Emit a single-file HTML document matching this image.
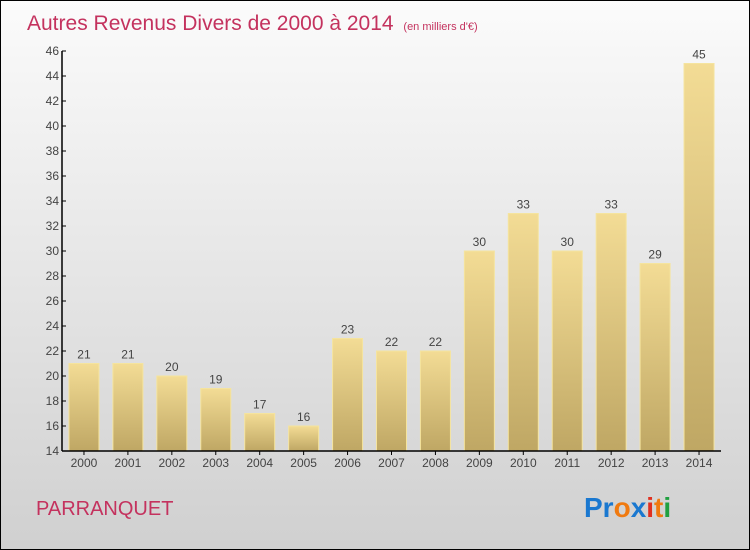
<!DOCTYPE html>
<html><head><meta charset="utf-8"><style>
body{margin:0;}
#c{position:relative;width:748px;height:548px;border:1px solid #000;background:linear-gradient(#fbfbfb,#d0d0d0);overflow:hidden;font-family:"Liberation Sans",sans-serif;}
</style></head><body>
<div id="c">
<svg id="s" width="748" height="548" xmlns="http://www.w3.org/2000/svg">
<defs><linearGradient id="g" x1="0" y1="0" x2="0" y2="1"><stop offset="0" stop-color="#f3dc95"/><stop offset="1" stop-color="#bfa764"/></linearGradient></defs>
<text x="26" y="29" font-size="21" fill="#c4325e">Autres Revenus Divers de 2000 à 2014 <tspan font-size="11" dx="4">(en milliers d'€)</tspan></text>
<text x="35" y="514" font-size="20" fill="#c4325e">PARRANQUET</text>
<g font-size="28" font-weight="bold" font-family="'Liberation Sans',sans-serif">
<text x="583" y="516"><tspan fill="#1a78d0">Pr</tspan><tspan fill="#f07a10">o</tspan><tspan fill="#1a78d0">x</tspan><tspan fill="#e03020">i</tspan><tspan fill="#f07a10">t</tspan><tspan fill="#20a040">i</tspan></text></g>
<g id="plot"></g>
</svg></div>
<script>
const years=["2000","2001","2002","2003","2004","2005","2006","2007","2008","2009","2010","2011","2012","2013","2014"];
const values=[21,21,20,19,17,16,23,22,22,30,33,30,33,29,45];
const yTicks=[14,16,18,20,22,24,26,28,30,32,34,36,38,40,42,44,46];
const NS="http://www.w3.org/2000/svg";
const g=document.getElementById('plot');
const x0=61,x1=720,yTop=50,yBot=450,vMin=14,vMax=46;
const y=v=>yBot-(v-vMin)/(vMax-vMin)*(yBot-yTop);
const step=(x1-x0)/years.length;
const xc=i=>x0+step*(i+0.5);
function mk(t,a){const e=document.createElementNS(NS,t);for(const k in a)e.setAttribute(k,a[k]);g.appendChild(e);return e;}
values.forEach((v,i)=>{
 const r=mk('rect',{x:xc(i)-15,y:y(v),width:30,height:yBot-y(v),fill:'url(#g)',stroke:'#f5e49e','stroke-width':1});
 
 
 const t=mk('text',{x:xc(i),y:y(v)-5,'text-anchor':'middle','font-size':12,fill:'#444'});
 t.textContent=v;
 
 
 const xl=mk('text',{x:xc(i),y:466,'text-anchor':'middle','font-size':12,fill:'#444'});
 xl.textContent=years[i];
 
 
 const tk=mk('line',{x1:xc(i),x2:xc(i),y1:yBot,y2:yBot+4,stroke:'#000'});
 
 
});
yTicks.forEach(v=>{
 const l=mk('line',{x1:x0,x2:x0+4,y1:y(v),y2:y(v),stroke:'#000'});
 
 
 const t=mk('text',{x:x0-3,y:y(v)+4,'text-anchor':'end','font-size':12,fill:'#444'});
 t.textContent=v;
 
 
});
const ya=mk('line',{x1:x0,x2:x0,y1:yTop,y2:yBot,stroke:'#000','stroke-width':1.5});


const xa=mk('line',{x1:x0,x2:x1,y1:yBot,y2:yBot,stroke:'#000','stroke-width':1.5});


</script>
</body></html>
